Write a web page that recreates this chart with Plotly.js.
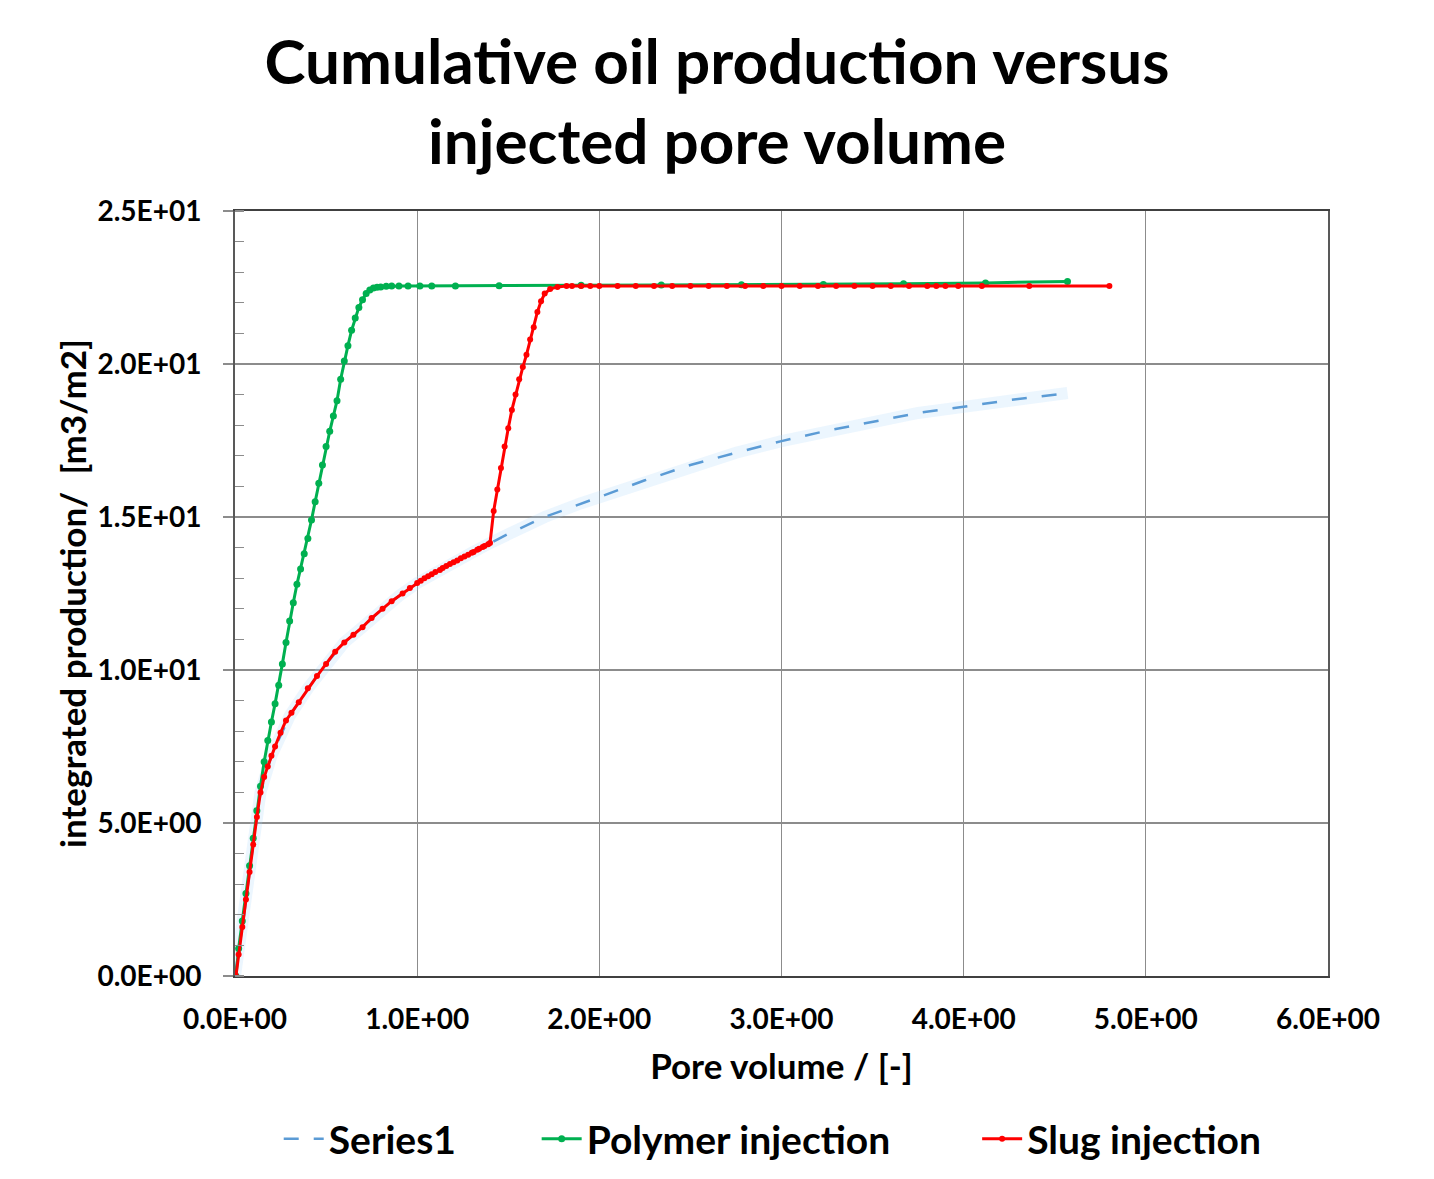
<!DOCTYPE html>
<html>
<head>
<meta charset="utf-8">
<script src="https://cdn.plot.ly/plotly-3.0.1.min.js"></script>
<style>html,body{margin:0;padding:0;background:#fff}#chart{width:1434px;height:1179px}</style>
</head>
<body>
<div id="chart"></div>
<script>
// ---- Data ----
const series1X = [0.0, 0.05, 0.10, 0.14, 0.20, 0.30, 0.40, 0.50, 0.60, 0.70, 0.80, 0.90, 1.00, 1.10, 1.20, 1.30, 1.40, 1.50, 1.70, 1.90, 2.00, 2.25, 2.50, 2.75, 3.00, 3.25, 3.50, 3.75, 4.00, 4.25, 4.57];
const series1Y = [0.0, 2.0, 4.3, 6.0, 7.2, 8.5, 9.4, 10.2, 10.9, 11.4, 11.95, 12.42, 12.84, 13.2, 13.52, 13.83, 14.15, 14.45, 15.0, 15.45, 15.65, 16.2, 16.7, 17.1, 17.48, 17.82, 18.12, 18.4, 18.6, 18.82, 19.05];

const polymerX = [0.005, 0.02, 0.04, 0.06, 0.08, 0.10, 0.12, 0.14, 0.16, 0.18, 0.20, 0.22, 0.24, 0.26, 0.28, 0.30, 0.32, 0.34, 0.36, 0.38, 0.40, 0.42, 0.44, 0.46, 0.48, 0.50, 0.52, 0.54, 0.56, 0.58, 0.60, 0.62, 0.64, 0.66, 0.68, 0.70, 0.72, 0.74, 0.76, 0.78, 0.80, 0.83, 0.86, 0.90, 0.95, 1.015, 1.08, 1.21, 1.45, 1.90, 2.34, 2.78, 3.23, 3.67, 4.12, 4.57];
const polymerY = [0.0, 0.9, 1.8, 2.7, 3.6, 4.5, 5.4, 6.2, 7.0, 7.7, 8.3, 8.9, 9.5, 10.2, 10.9, 11.6, 12.2, 12.8, 13.3, 13.8, 14.3, 14.9, 15.5, 16.1, 16.7, 17.3, 17.8, 18.3, 18.8, 19.5, 20.1, 20.6, 21.1, 21.5, 21.85, 22.1, 22.3, 22.42, 22.48, 22.51, 22.52, 22.54, 22.55, 22.55, 22.55, 22.55, 22.55, 22.55, 22.56, 22.57, 22.58, 22.59, 22.6, 22.62, 22.65, 22.7];

const slugX = [0.005, 0.02, 0.04, 0.06, 0.08, 0.10, 0.12, 0.14, 0.16, 0.18, 0.20, 0.22, 0.25, 0.28, 0.31, 0.35, 0.40, 0.45, 0.50, 0.55, 0.60, 0.65, 0.70, 0.75, 0.81, 0.86, 0.92, 0.96, 1.00, 1.02, 1.04, 1.06, 1.08, 1.10, 1.125, 1.14, 1.16, 1.18, 1.20, 1.22, 1.24, 1.26, 1.28, 1.30, 1.31, 1.33, 1.34, 1.36, 1.37, 1.39, 1.40, 1.42, 1.44, 1.46, 1.48, 1.50, 1.52, 1.54, 1.56, 1.58, 1.60, 1.62, 1.64, 1.66, 1.68, 1.70, 1.73, 1.77, 1.82, 1.85, 1.90, 1.95, 2.00, 2.10, 2.20, 2.30, 2.40, 2.50, 2.60, 2.70, 2.80, 2.90, 3.00, 3.10, 3.20, 3.30, 3.40, 3.50, 3.60, 3.70, 3.80, 3.85, 3.90, 3.97, 4.10, 4.36, 4.80];
const slugY = [0.0, 0.7, 1.6, 2.5, 3.4, 4.3, 5.2, 6.0, 6.5, 6.85, 7.2, 7.5, 7.95, 8.35, 8.6, 8.95, 9.4, 9.8, 10.2, 10.6, 10.9, 11.15, 11.4, 11.7, 12.0, 12.25, 12.5, 12.68, 12.84, 12.92, 13.0, 13.06, 13.13, 13.2, 13.27, 13.33, 13.4, 13.46, 13.52, 13.58, 13.65, 13.71, 13.77, 13.83, 13.86, 13.93, 13.96, 14.02, 14.05, 14.11, 14.15, 15.2, 15.9, 16.6, 17.3, 17.9, 18.5, 19.0, 19.5, 19.9, 20.3, 20.8, 21.2, 21.7, 22.05, 22.3, 22.45, 22.52, 22.55, 22.55, 22.55, 22.55, 22.55, 22.55, 22.55, 22.55, 22.55, 22.55, 22.55, 22.55, 22.55, 22.55, 22.55, 22.55, 22.55, 22.55, 22.55, 22.55, 22.55, 22.55, 22.55, 22.55, 22.55, 22.55, 22.55, 22.55, 22.55];

const xTickVals = [0, 1, 2, 3, 4, 5, 6];
const xTickText = ["0.0E+00", "1.0E+00", "2.0E+00", "3.0E+00", "4.0E+00", "5.0E+00", "6.0E+00"];
const yTickVals = [0, 5, 10, 15, 20, 25];
const yTickText = ["0.0E+00", "5.0E+00", "1.0E+01", "1.5E+01", "2.0E+01", "2.5E+01"];

// ---- Chart ----
const FONT = "Lato, 'Open Sans', sans-serif";
const traces = [
  {x: series1X, y: series1Y, mode: "lines", showlegend: false, hoverinfo: "skip",
   line: {color: "rgba(170,215,250,0.22)", width: 12}},
  {x: series1X, y: series1Y, mode: "lines", name: "Series1", legend: "legend",
   line: {color: "#5B9BD5", width: 2.5, dash: "longdash"}},
  {x: polymerX, y: polymerY, mode: "lines+markers", name: "Polymer injection", legend: "legend2",
   line: {color: "#00B050", width: 3}, marker: {color: "#00B050", size: 7}},
  {x: slugX, y: slugY, mode: "lines+markers", name: "Slug injection", legend: "legend3",
   line: {color: "#FF0000", width: 3}, marker: {color: "#FF0000", size: 6}}
];

const legFont = {family: FONT, size: 39, color: "#000", weight: "bold"};
const legBase = {orientation: "h", y: -0.213, yanchor: "middle", xanchor: "left", font: legFont, itemwidth: 40, bgcolor: "rgba(0,0,0,0)"};

const layout = {
  width: 1434, height: 1179,
  paper_bgcolor: "#fff", plot_bgcolor: "#fff",
  margin: {l: 235, r: 106, t: 211, b: 203, autoexpand: false},
  font: {family: FONT, color: "#000"},
  title: {text: "<b>Cumulative oil production versus<br>injected pore volume</b>",
    font: {family: FONT, size: 62, color: "#000"}, x: 0.5, xanchor: "center", y: 0.929, yanchor: "middle"},
  xaxis: {
    range: [0, 6], tickvals: xTickVals, ticktext: xTickText, ticks: "",
    showgrid: true, gridcolor: "#8c8c8c", gridwidth: 1.3,
    showline: true, linecolor: "#404040", linewidth: 2, mirror: true,
    zeroline: false, ticklabelstandoff: 17,
    tickfont: {family: FONT, size: 28, color: "#000", weight: "bold"},
    title: {text: "<b>Pore volume / [-]</b>", font: {family: FONT, size: 35, color: "#000"}, standoff: 21}
  },
  yaxis: {
    range: [0, 25], tickvals: yTickVals, ticktext: yTickText,
    ticks: "outside", ticklen: 10, tickcolor: "#8c8c8c", tickwidth: 1.3,
    minor: {dtick: 1, ticks: "inside", ticklen: 9, tickcolor: "#8c8c8c", tickwidth: 1.3, showgrid: false},
    showgrid: true, gridcolor: "#8c8c8c", gridwidth: 1.3,
    showline: true, linecolor: "#595959", linewidth: 2, mirror: true,
    zeroline: false, ticklabelstandoff: 16,
    tickfont: {family: FONT, size: 28, color: "#000", weight: "bold"},
    title: {text: "<b>integrated production/  [m3/m2]</b>", font: {family: FONT, size: 35, color: "#000"}, standoff: 0}
  },
  legend: Object.assign({}, legBase, {x: 0.040}),
  legend2: Object.assign({}, legBase, {x: 0.276}),
  legend3: Object.assign({}, legBase, {x: 0.679}),
  showlegend: true
};

Plotly.newPlot("chart", traces, layout, {displayModeBar: false, staticPlot: true});
</script>
</body>
</html>
